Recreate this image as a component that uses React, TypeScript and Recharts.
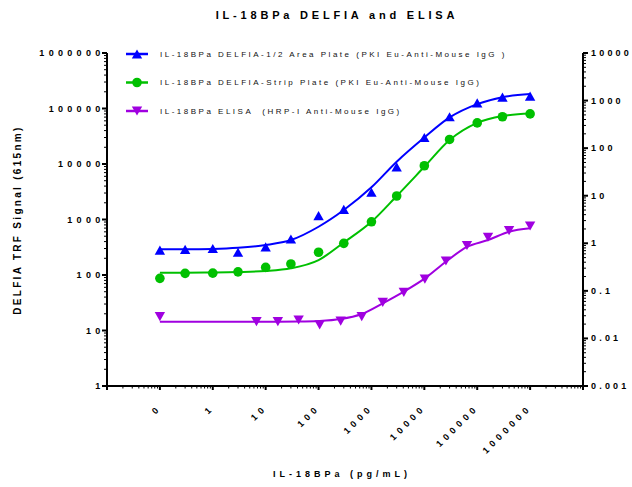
import React from 'react';
import { ComposedChart, Line, Scatter, XAxis, YAxis, Legend } from 'recharts';

const FONT = '"Liberation Sans", Arial, sans-serif';
const BLUE = '#0000ff';
const GREEN = '#00c000';
const PURPLE = '#a000e0';

// IL-18BPa concentrations (pg/mL); the "0" standard sits at 0.1 on the log axis
const delfiaConc = [0.1, 0.3, 1, 3, 10, 30, 100, 300, 1000, 3000, 10000, 30000, 100000, 300000, 1000000];
const elisaConc = [0.1, 6.7, 17, 42, 105, 262, 655, 1638, 4096, 10240, 25600, 64000, 160000, 400000, 1000000];

// DELFIA 1/2 area plate, TRF counts
const areaPlatePts = [280, 290, 300, 257, 322, 445, 1170, 1520, 3100, 8900, 30000, 71000, 126000, 160000, 167000];
const areaPlateFit = [290, 290, 295, 310, 347, 426, 740, 1480, 3800, 11000, 30000, 69000, 120000, 160000, 182000];

// DELFIA strip plate, TRF counts
const stripPlatePts = [87, 107, 108, 114, 137, 158, 257, 372, 910, 2650, 9300, 27700, 55000, 71000, 80000];
const stripPlateFit = [110, 110, 111, 113, 118, 132, 186, 385, 910, 2650, 8900, 27000, 55000, 73000, 81000];

// ELISA, OD (right axis)
const elisaPts = [0.0286, 0.0225, 0.0225, 0.0244, 0.0192, 0.0232, 0.0286, 0.0575, 0.0933, 0.177, 0.424, 0.899, 1.34, 1.84, 2.31];
const elisaFit = [0.0225, 0.0225, 0.0225, 0.0226, 0.0232, 0.0255, 0.0326, 0.0547, 0.0963, 0.183, 0.41, 0.84, 1.17, 1.75, 2.06];

const xMajor = [0.01, 0.1, 1, 10, 100, 1000, 10000, 100000, 1000000, 10000000];
const xLabels = ['', '0', '1', '10', '100', '1000', '10000', '100000', '1000000', ''];
const leftMajor = [1, 10, 100, 1000, 10000, 100000, 1000000];
const rightMajor = [0.001, 0.01, 0.1, 1, 10, 100, 1000, 10000];

const legendItems = [
  { name: 'IL-18BPa DELFIA-1/2 Area Plate (PKI Eu-Anti-Mouse IgG )', color: BLUE, shape: 'up' },
  { name: 'IL-18BPa DELFIA-Strip Plate (PKI Eu-Anti-Mouse IgG)', color: GREEN, shape: 'circle' },
  { name: 'IL-18BPa ELISA  (HRP-I Anti-Mouse IgG)', color: PURPLE, shape: 'down' },
];

const pairs = (xs: number[], ys: number[]) => xs.map((x, i) => ({ x, y: ys[i] }));

// major decades plus 2..9 minor ticks in between
const withMinors = (majors: number[]) => {
  const out: number[] = [];
  majors.forEach((m, i) => {
    out.push(m);
    if (i < majors.length - 1) for (let k = 2; k < 10; k++) out.push(m * k);
  });
  return out;
};

const isMajor = (v: number) => {
  const l = Math.log10(v);
  return Math.abs(l - Math.round(l)) < 1e-6;
};

const TICK_FONT = { fontFamily: FONT, fontSize: 9, fontWeight: 700, letterSpacing: 4.3, fill: '#000' };

const Marker = ({ cx, cy, color, shape }: any) => {
  if (cx == null || cy == null) return null;
  if (shape === 'circle') return <circle cx={cx} cy={cy} r={4.8} fill={color} />;
  const w = 5.2;
  const h = 4.6;
  const pts =
    shape === 'up'
      ? `${cx - w},${cy + h} ${cx + w},${cy + h} ${cx},${cy - h}`
      : `${cx - w},${cy - h} ${cx + w},${cy - h} ${cx},${cy + h}`;
  return <polygon points={pts} fill={color} />;
};

const XTick = (props: any) => {
  const { x, y, payload } = props;
  const i = xMajor.findIndex((m) => Math.abs(m - payload.value) / m < 1e-6);
  const major = i >= 0;
  const label = major ? xLabels[i] : '';
  const ax = x;
  const ay = y + 20;
  return (
    <g>
      <line x1={x} x2={x} y1={y} y2={y + (major ? 4 : 2.5)} stroke="#000" strokeWidth={major ? 2 : 1} />
      {label && (
        <text x={ax} y={ay} transform={`rotate(-45 ${ax} ${ay})`} textAnchor="end" dominantBaseline="central" style={TICK_FONT}>
          {label}
        </text>
      )}
    </g>
  );
};

const LeftTick = (props: any) => {
  const { x, y, payload } = props;
  const major = isMajor(payload.value);
  return (
    <g>
      <line x1={x} x2={x - (major ? 5 : 3)} y1={y} y2={y} stroke="#000" strokeWidth={major ? 2 : 1} />
      {major && (
        <text x={x - 2.5} y={y} textAnchor="end" dominantBaseline="central" style={TICK_FONT}>
          {String(payload.value)}
        </text>
      )}
    </g>
  );
};

const RightTick = (props: any) => {
  const { x, y, payload } = props;
  const major = isMajor(payload.value);
  return (
    <g>
      <line x1={x} x2={x + (major ? 5 : 3)} y1={y} y2={y} stroke="#000" strokeWidth={major ? 2 : 1} />
      {major && (
        <text x={x + 8} y={y} textAnchor="start" dominantBaseline="central" style={{ ...TICK_FONT, letterSpacing: 3.2 }}>
          {String(payload.value)}
        </text>
      )}
    </g>
  );
};

const YTitle = () => (
  <text
    x={17}
    y={220}
    transform="rotate(-90 17 220)"
    textAnchor="middle"
    dominantBaseline="central"
    style={{ fontFamily: FONT, fontSize: 10, fontWeight: 700, letterSpacing: 2.3, fill: '#000' }}
  >
    DELFIA TRF Signal (615nm)
  </text>
);

const XTitle = () => (
  <text
    x={342}
    y={474}
    textAnchor="middle"
    dominantBaseline="central"
    style={{ fontFamily: FONT, fontSize: 9, fontWeight: 700, letterSpacing: 4, fill: '#000' }}
  >
    IL-18BPa (pg/mL)
  </text>
);

const LegendBox = () => (
  <svg width={632} height={130} style={{ display: 'block' }}>
    {legendItems.map((it, i) => {
      const y = 54 + i * 28.5;
      return (
        <g key={it.name}>
          <line x1={126} x2={148} y1={y} y2={y} stroke={it.color} strokeWidth={2.5} />
          <Marker cx={137} cy={y} color={it.color} shape={it.shape} />
          <text
            x={160}
            y={y}
            dominantBaseline="central"
            style={{ fontFamily: FONT, fontSize: 8, letterSpacing: 2.5, fill: '#111', whiteSpace: 'pre' }}
          >
            {it.name}
          </text>
        </g>
      );
    })}
  </svg>
);

export default function App() {
  return (
    <div style={{ position: 'absolute', left: 0, top: 0, width: 632, height: 487, background: '#fff' }}>
      <svg width={632} height={30} style={{ position: 'absolute', left: 0, top: 0 }}>
        <text
          x={337}
          y={15}
          textAnchor="middle"
          dominantBaseline="central"
          style={{ fontFamily: FONT, fontSize: 11, fontWeight: 700, letterSpacing: 3.8, fill: '#000' }}
        >
          IL-18BPa DELFIA and ELISA
        </text>
      </svg>
      <ComposedChart width={632} height={487} margin={{ top: 53, right: 0, bottom: 0, left: 0 }}>
        <XAxis
          dataKey="x"
          type="number"
          scale="log"
          domain={[0.01, 10000000]}
          allowDataOverflow
          ticks={withMinors(xMajor)}
          interval={0}
          tick={XTick}
          tickSize={0}
          tickMargin={0}
          height={101}
          axisLine={{ stroke: '#000', strokeWidth: 2 }}
          label={<XTitle />}
        />
        <YAxis
          yAxisId="left"
          type="number"
          scale="log"
          domain={[1, 1000000]}
          allowDataOverflow
          ticks={withMinors(leftMajor)}
          interval={0}
          tick={LeftTick}
          tickSize={0}
          tickMargin={0}
          width={107}
          axisLine={{ stroke: '#000', strokeWidth: 2 }}
          label={<YTitle />}
        />
        <YAxis
          yAxisId="right"
          orientation="right"
          type="number"
          scale="log"
          domain={[0.001, 10000]}
          allowDataOverflow
          ticks={withMinors(rightMajor)}
          interval={0}
          tick={RightTick}
          tickSize={0}
          tickMargin={0}
          width={49}
          axisLine={{ stroke: '#000', strokeWidth: 2 }}
        />
        <Legend
          layout="horizontal"
          verticalAlign="middle"
          align="center"
          content={() => <LegendBox />}
          wrapperStyle={{ left: 0, top: 0, width: 632, height: 130, pointerEvents: 'none' }}
        />
        <Line yAxisId="left" data={pairs(delfiaConc, areaPlateFit)} dataKey="y" type="monotone" stroke={BLUE} strokeWidth={2} dot={false} activeDot={false} isAnimationActive={false} legendType="none" />
        <Line yAxisId="left" data={pairs(delfiaConc, stripPlateFit)} dataKey="y" type="monotone" stroke={GREEN} strokeWidth={2} dot={false} activeDot={false} isAnimationActive={false} legendType="none" />
        <Line yAxisId="right" data={pairs(elisaConc, elisaFit)} dataKey="y" type="monotone" stroke={PURPLE} strokeWidth={2} dot={false} activeDot={false} isAnimationActive={false} legendType="none" />
        <Scatter yAxisId="left" data={pairs(delfiaConc, areaPlatePts)} dataKey="y" fill={BLUE} isAnimationActive={false} shape={(p: any) => <Marker cx={p.cx} cy={p.cy} color={BLUE} shape="up" />} />
        <Scatter yAxisId="left" data={pairs(delfiaConc, stripPlatePts)} dataKey="y" fill={GREEN} isAnimationActive={false} shape={(p: any) => <Marker cx={p.cx} cy={p.cy} color={GREEN} shape="circle" />} />
        <Scatter yAxisId="right" data={pairs(elisaConc, elisaPts)} dataKey="y" fill={PURPLE} isAnimationActive={false} shape={(p: any) => <Marker cx={p.cx} cy={p.cy} color={PURPLE} shape="down" />} />
      </ComposedChart>
    </div>
  );
}
